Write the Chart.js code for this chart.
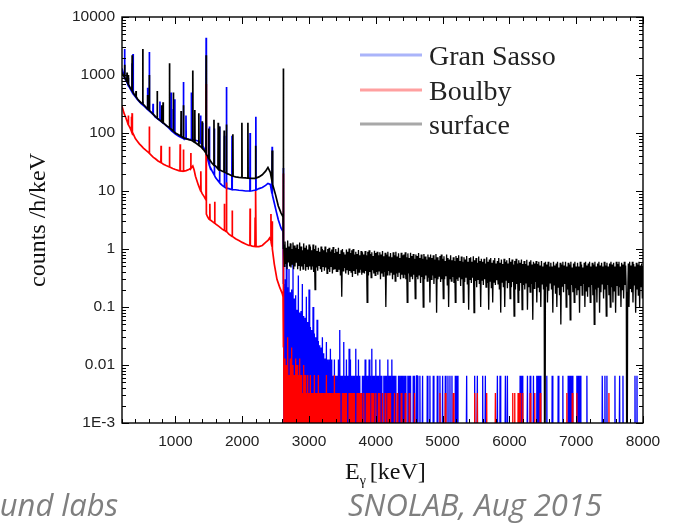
<!DOCTYPE html>
<html><head><meta charset="utf-8">
<script src="https://cdn.jsdelivr.net/npm/chart.js@4.4.1/dist/chart.umd.min.js"></script>
<style>
html,body{margin:0;padding:0;background:#fff;}
#wrap{position:relative;width:673px;height:523px;overflow:hidden;background:#fff;}
canvas{position:absolute;left:0;top:0;}
.foot{position:absolute;font-family:"Open Sans",sans-serif;font-style:italic;font-size:31px;color:#7f7f7f;white-space:nowrap;line-height:31px;}
</style></head><body>
<div id="wrap"><canvas id="c" width="673" height="523"></canvas>
<div class="foot" style="right:555px;top:489px;">und labs</div>
<div class="foot" style="left:348px;top:489px;">SNOLAB, Aug 2015</div>
</div>
<script>
const Z = 1e-6; // empty bin (zero counts) - falls below the axis
const seriesNames = ['Gran Sasso', 'Boulby', 'surface'];
const xTickValues = [1000, 2000, 3000, 4000, 5000, 6000, 7000, 8000];
const xTickLabels = ['1000', '2000', '3000', '4000', '5000', '6000', '7000', '8000'];
const yTickValues = [0.001, 0.01, 0.1, 1, 10, 100, 1000, 10000];
const yTickLabels = ['1E-3', '0.01', '0.1', '1', '10', '100', '1000', '10000'];

// Low-energy part: [E keV, counts/h/keV]
const granSassoLow = [[200,1300],[215,1100],[225,1000],[236,950],[239,2800],[242,930],[260,820],[280,720],[292,660],[295,900],[298,650],[320,590],[349,510],[352,1600],[355,505],[362,490],[365,2300],[368,485],[380,450],[400,420],[430,380],[460,345],[490,318],[508,305],[511,350],[514,303],[540,285],[570,262],[580,255],[583,600],[586,253],[606,240],[609,2500],[612,238],[640,222],[662,210],[665,320],[668,208],[700,188],[765,165],[768,350],[771,164],[800,152],[850,138],[900,122],[931,112],[934,500],[937,111],[964,104],[967,260],[970,103],[987,99],[990,380],[993,98],[1000,96],[1050,88],[1100,82],[1117,81],[1120,760],[1123,80],[1155,79],[1158,200],[1161,79],[1200,78],[1235,77],[1238,500],[1241,77],[1280,76],[1300,75],[1350,72],[1374,68],[1377,200],[1380,67],[1405,61],[1408,150],[1411,60],[1430,54],[1457,46],[1460,4400],[1463,42],[1480,36],[1500,30],[1506,28],[1509,130],[1512,27],[1550,22],[1580,19],[1583,120],[1586,18.6],[1600,17],[1658,14],[1661,130],[1664,13.8],[1700,12.5],[1730,11.8],[1733,90],[1736,11.7],[1761,11.3],[1764,620],[1767,11.2],[1800,11],[1844,10.6],[1847,90],[1850,10.6],[1900,10.5],[1950,10.3],[2000,10.2],[2050,10],[2115,10],[2118,100],[2121,10],[2150,10.1],[2201,10.4],[2204,190],[2207,10.4],[2250,11],[2300,11.5],[2350,12.5],[2385,13.5],[2420,13],[2445,9],[2448,58],[2451,8.6],[2480,6.2],[2510,4.4],[2540,3.2],[2580,2.3],[2611,2.0],[2614,25],[2617,0.4]];

const boulbyLow = [[200,290],[230,220],[260,180],[280,155],[292,140],[295,200],[298,138],[320,122],[335,112],[338,190],[341,110],[349,106],[352,220],[355,104],[380,90],[400,80],[430,72],[460,65],[490,60],[520,55],[560,50],[590,47],[606,45],[609,130],[612,44.5],[640,41],[670,38],[700,36],[740,33],[782,31],[785,60],[788,30.8],[820,29],[860,27.5],[908,26],[911,58],[914,26],[960,24.5],[1000,23.5],[1050,22.5],[1068,22.2],[1071,64],[1074,22.2],[1100,22],[1117,22],[1120,52],[1123,22],[1160,22.5],[1200,23.5],[1227,24.5],[1230,45],[1233,24.5],[1260,27],[1280,23],[1300,18],[1340,13],[1377,10],[1380,22],[1383,10],[1400,9],[1430,8],[1457,7],[1460,700],[1463,4],[1480,3.6],[1500,3.3],[1512,3.2],[1515,6],[1518,3.2],[1550,3.0],[1585,2.8],[1588,6.5],[1591,2.8],[1600,2.7],[1650,2.45],[1700,2.2],[1730,2.1],[1733,6],[1736,2.1],[1761,2.0],[1764,14],[1767,2.0],[1800,1.8],[1847,1.65],[1850,4.6],[1853,1.65],[1900,1.5],[1950,1.4],[2000,1.3],[2050,1.22],[2100,1.15],[2115,1.15],[2118,5],[2121,1.15],[2150,1.12],[2190,1.1],[2193,3.5],[2196,1.1],[2201,1.1],[2204,10],[2207,1.1],[2250,1.1],[2300,1.15],[2350,1.3],[2385,1.4],[2410,1.55],[2427,1.4],[2430,4],[2433,1.3],[2445,1.1],[2448,3],[2451,1.0],[2480,0.55],[2520,0.3],[2560,0.22],[2600,0.17],[2611,0.15],[2614,20],[2617,0.05]];

const surfaceLow = [[200,1100],[215,1000],[230,950],[238,930],[241,1500],[244,900],[260,820],[272,780],[275,1100],[278,770],[292,700],[295,1000],[298,690],[320,610],[340,560],[349,540],[352,2200],[355,530],[380,470],[407,425],[410,530],[413,422],[430,390],[460,355],[463,350],[466,352],[490,330],[508,320],[511,2800],[514,318],[540,295],[570,270],[580,262],[583,450],[586,260],[606,248],[609,1000],[612,246],[640,228],[670,210],[700,192],[724,182],[727,530],[730,180],[760,168],[792,158],[795,300],[798,156],[812,152],[815,340],[818,151],[860,136],[880,130],[908,124],[911,1600],[914,123],[940,115],[966,108],[969,500],[972,107],[1000,100],[1040,94],[1082,88],[1085,240],[1088,87],[1117,84],[1120,300],[1123,83],[1160,80],[1200,77],[1235,75],[1257,73],[1260,1200],[1263,72],[1287,69],[1290,250],[1293,69],[1300,68],[1347,62],[1350,220],[1353,61],[1380,58],[1397,55],[1400,160],[1403,55],[1430,50],[1457,45],[1460,2200],[1463,43],[1480,40],[1497,36],[1500,120],[1503,36],[1540,31],[1574,28],[1577,170],[1580,27.5],[1600,27],[1637,24],[1640,150],[1643,23.5],[1657,23],[1660,130],[1663,23],[1680,22.5],[1720,21.5],[1727,21.3],[1730,110],[1733,21.2],[1761,20.5],[1764,140],[1767,20.3],[1800,19.5],[1857,18],[1860,95],[1863,18],[1900,17.5],[1950,17.2],[1992,17],[1995,150],[1998,17],[2050,16.8],[2082,16.6],[2085,150],[2088,16.6],[2150,16.5],[2197,16.6],[2200,60],[2203,16.6],[2250,17.5],[2300,19],[2350,22],[2385,25.5],[2420,21],[2445,15],[2448,50],[2451,14.6],[2460,13],[2500,8.5],[2540,5.5],[2580,4.2],[2611,3.6],[2614,1300],[2617,1.0]];

// High-energy part: 10 keV bins from 2620 keV to 8000 keV (20 bins per row)
const hiBinStart = 2620;
const hiBinWidth = 10;
const granSassoHi = [
0.25,Z,0.3,Z,0.8,Z,0.22,Z,0.45,Z,0.18,Z,0.2,Z,0.6,Z,0.14,Z,0.16,Z,
0.09,Z,0.35,Z,0.08,Z,0.085,Z,0.25,Z,0.07,Z,0.065,Z,0.15,Z,0.055,Z,0.2,Z,
0.045,Z,0.04,Z,0.1,Z,0.035,Z,0.03,Z,0.06,Z,0.026,Z,0.022,Z,0.02,Z,0.03,Z,
0.016,Z,0.013,Z,0.025,Z,0.0125,Z,0.0125,Z,0.019,Z,0.0125,Z,0.0065,Z,0.0125,Z,0.0065,Z,
0.0065,Z,0.0125,Z,0.04,Z,0.0065,Z,0.0065,Z,0.025,Z,0.0065,Z,0.0125,Z,0.0065,Z,0.019,Z,
0.0125,Z,0.0065,Z,0.0065,Z,0.0065,Z,0.019,Z,0.0065,Z,0.0125,Z,0.0065,Z,Z,Z,0.0065,Z,
0.0065,Z,0.0125,Z,0.0065,Z,0.0065,Z,0.0125,Z,0.0065,Z,0.019,Z,0.0065,Z,0.0065,Z,0.0125,Z,
0.0065,Z,0.0065,Z,0.0125,Z,0.0065,Z,Z,Z,0.0065,Z,0.0065,Z,0.0065,Z,0.0125,Z,0.0065,Z,
0.0065,Z,0.0125,Z,0.0065,Z,0.0065,Z,0.0065,Z,Z,Z,0.0065,Z,0.0065,Z,0.0065,Z,0.0065,Z,
0.0065,Z,0.0065,Z,Z,Z,0.0065,Z,0.0065,Z,0.0065,Z,Z,Z,0.0065,Z,0.0065,Z,Z,0.0065,
0.0065,Z,Z,Z,0.0065,Z,Z,Z,0.0065,Z,Z,Z,Z,Z,Z,0.0065,Z,Z,Z,0.0065,
Z,Z,Z,Z,0.0065,Z,Z,Z,Z,Z,0.0065,Z,Z,Z,0.0065,Z,Z,Z,0.0065,Z,
Z,Z,0.0065,Z,Z,Z,0.0065,Z,Z,0.0065,Z,Z,0.0065,Z,Z,Z,Z,0.0065,Z,Z,
0.0065,Z,Z,Z,Z,Z,Z,Z,Z,Z,Z,Z,Z,Z,0.0065,Z,Z,Z,Z,Z,
Z,Z,Z,Z,Z,Z,0.0065,Z,Z,Z,0.0065,Z,Z,Z,Z,Z,Z,Z,0.0065,Z,
Z,Z,0.0065,Z,Z,Z,Z,Z,Z,Z,Z,Z,Z,Z,Z,Z,Z,Z,Z,Z,
0.0065,Z,Z,Z,0.0065,Z,Z,Z,Z,Z,Z,Z,0.0065,Z,Z,0.0065,Z,Z,Z,Z,
Z,Z,Z,Z,Z,Z,Z,Z,Z,Z,Z,Z,Z,Z,0.0065,Z,Z,0.0065,Z,Z,
Z,Z,Z,Z,Z,0.0065,Z,Z,Z,0.0065,Z,Z,Z,Z,0.0065,Z,Z,Z,Z,0.0065,
Z,0.0065,Z,Z,0.0065,Z,Z,Z,Z,Z,Z,Z,Z,Z,0.0065,Z,Z,Z,Z,Z,
Z,Z,0.0065,Z,Z,Z,Z,Z,Z,Z,Z,0.0065,Z,Z,Z,Z,Z,Z,0.0065,Z,
Z,Z,Z,Z,Z,Z,0.0065,Z,Z,0.0065,Z,Z,0.0065,Z,Z,Z,Z,Z,Z,0.0065,
Z,0.0065,Z,Z,0.0065,Z,Z,Z,Z,Z,Z,Z,Z,Z,0.0065,Z,Z,Z,Z,Z,
Z,Z,Z,Z,Z,Z,Z,Z,Z,Z,Z,Z,Z,Z,Z,Z,Z,0.0065,0.0065,Z,
Z,0.0065,Z,Z,0.0065,Z,Z,Z,Z,Z,Z,Z,Z,Z,Z,Z,0.0065,Z,Z,Z,
Z,Z,Z,0.0065,Z,Z,Z,Z,0.0065,Z,Z,Z,Z,Z,Z,Z,Z,Z,Z,Z,
Z,Z,Z,Z,Z,Z,0.0065,Z,Z,0.0065,Z,Z,Z,Z,Z,Z,Z,Z,Z];

const boulbyHi = [
0.02,Z,0.013,Z,0.01,Z,0.03,Z,0.0067,Z,0.013,Z,0.02,Z,0.01,Z,0.0067,Z,0.013,Z,
0.01,Z,0.0067,Z,0.013,Z,0.0067,Z,0.0033,Z,0.01,Z,0.0067,Z,0.0033,Z,0.0067,Z,0.0033,Z,
0.0067,Z,0.0033,Z,0.0033,Z,0.0067,Z,0.0033,Z,0.0033,Z,0.0067,Z,0.0033,Z,0.0033,Z,0.0033,Z,
0.0033,Z,0.0033,Z,0.0067,Z,0.0033,Z,0.0033,Z,0.0033,Z,0.0033,Z,0.0033,Z,0.0067,Z,0.0033,Z,
0.0033,Z,0.0033,Z,0.0033,Z,Z,Z,0.0033,Z,0.0033,Z,0.0033,Z,0.0033,Z,Z,Z,0.0033,Z,
0.0033,Z,0.0033,Z,0.0033,Z,0.0033,Z,Z,Z,0.0033,Z,0.0033,Z,0.0033,Z,0.0033,Z,Z,Z,
0.0033,Z,Z,Z,0.0033,Z,0.0033,Z,0.0033,Z,Z,Z,0.0033,Z,0.0033,Z,Z,Z,0.0033,Z,
Z,Z,0.0033,Z,0.0033,Z,Z,Z,0.0033,Z,Z,Z,0.0033,Z,Z,Z,0.0033,Z,0.0033,Z,
0.0033,Z,Z,Z,Z,Z,0.0033,Z,Z,Z,0.0033,Z,Z,Z,Z,Z,0.0033,Z,Z,Z,
Z,Z,0.0033,Z,Z,Z,Z,Z,0.0033,Z,Z,Z,Z,Z,Z,Z,0.0033,Z,Z,Z,
Z,Z,Z,Z,Z,Z,Z,Z,Z,Z,Z,Z,Z,Z,Z,Z,Z,Z,Z,Z,
Z,Z,Z,Z,Z,Z,Z,Z,Z,Z,Z,Z,Z,Z,0.0033,Z,Z,Z,Z,Z,
Z,Z,0.0033,Z,Z,Z,Z,Z,Z,Z,Z,Z,Z,Z,0.0033,Z,Z,Z,Z,Z,
Z,Z,Z,Z,Z,Z,Z,Z,Z,Z,Z,Z,Z,Z,Z,Z,Z,Z,Z,Z,
Z,Z,Z,Z,Z,Z,0.0033,Z,Z,Z,0.0033,Z,Z,Z,Z,Z,Z,Z,Z,Z,
Z,Z,Z,Z,0.0033,Z,Z,Z,Z,Z,Z,Z,Z,Z,Z,Z,Z,0.0033,Z,Z,
Z,Z,Z,Z,Z,Z,Z,Z,Z,Z,Z,Z,Z,Z,Z,Z,Z,Z,Z,Z,
Z,Z,Z,0.0033,Z,Z,0.0033,Z,Z,Z,Z,0.0033,Z,Z,0.0033,Z,Z,Z,0.0033,Z,
Z,Z,Z,Z,Z,Z,Z,Z,Z,0.0033,Z,Z,Z,Z,Z,Z,0.0033,Z,Z,Z,
Z,Z,Z,Z,0.0033,Z,Z,Z,Z,Z,Z,Z,Z,Z,Z,Z,Z,Z,Z,Z,
Z,Z,Z,Z,Z,Z,Z,Z,Z,Z,Z,Z,Z,Z,Z,Z,Z,Z,Z,Z,
Z,Z,Z,Z,0.0033,Z,Z,Z,Z,Z,Z,Z,0.0033,Z,Z,Z,Z,Z,Z,0.0033,
Z,Z,Z,Z,Z,Z,Z,Z,Z,Z,Z,Z,Z,Z,Z,Z,Z,Z,Z,Z,
Z,Z,Z,Z,Z,Z,Z,Z,Z,Z,Z,Z,Z,Z,Z,Z,Z,Z,Z,Z,
Z,Z,Z,Z,Z,Z,Z,0.0033,Z,Z,Z,Z,Z,Z,Z,Z,Z,Z,Z,Z,
Z,Z,Z,Z,Z,Z,Z,Z,Z,Z,Z,Z,Z,Z,Z,Z,Z,Z,Z,Z,
Z,Z,Z,Z,Z,Z,Z,Z,Z,Z,Z,Z,Z,Z,Z,Z,Z,Z,Z];

const surfaceHi = [
1.2,0.5,1.35,0.55,1.05,0.45,1.4,0.6,1.1,0.5,1.25,0.48,1.0,0.55,1.3,0.45,1.15,0.5,1.05,0.58,
1.2,0.45,1.0,0.52,1.3,0.42,1.1,0.5,0.95,0.45,1.25,0.55,1.05,0.42,1.15,0.5,0.98,0.44,1.2,0.5,
1.1,0.45,0.95,0.5,1.2,0.4,1.0,0.2,1.15,0.48,0.92,0.42,1.05,0.52,0.9,0.45,1.1,0.4,1.0,0.5,
0.95,0.42,1.1,0.48,0.88,0.38,1.0,0.45,1.05,0.4,0.9,0.5,0.98,0.38,1.08,0.44,0.85,0.46,1.0,0.4,
0.9,0.4,1.05,0.45,0.82,0.35,0.95,0.15,1.0,0.42,0.88,0.47,0.8,0.38,0.98,0.44,0.9,0.36,1.02,0.42,
0.85,0.4,0.95,0.33,1.0,0.42,0.8,0.38,0.9,0.45,0.82,0.35,0.96,0.4,0.78,0.44,0.92,0.36,0.88,0.4,
0.8,0.38,0.92,0.42,0.78,0.12,0.9,0.35,0.95,0.4,0.82,0.32,0.88,0.43,0.76,0.38,0.93,0.35,0.85,0.4,
0.9,0.36,0.78,0.42,0.88,0.3,0.8,0.38,0.92,0.34,0.75,0.4,0.86,0.1,0.8,0.36,0.9,0.42,0.74,0.35,
0.85,0.4,0.72,0.3,0.88,0.36,0.78,0.28,0.9,0.38,0.74,0.33,0.84,0.4,0.7,0.3,0.86,0.36,0.78,0.32,
0.8,0.36,0.88,0.3,0.72,0.12,0.84,0.38,0.7,0.27,0.86,0.34,0.76,0.3,0.82,0.36,0.68,0.14,0.8,0.33,
0.76,0.3,0.85,0.36,0.7,0.26,0.8,0.33,0.68,0.1,0.82,0.3,0.74,0.35,0.66,0.28,0.8,0.32,0.72,0.12,
0.8,0.3,0.7,0.35,0.78,0.25,0.66,0.32,0.82,0.08,0.72,0.3,0.64,0.34,0.76,0.27,0.8,0.3,0.68,0.14,
0.75,0.3,0.62,0.34,0.8,0.24,0.7,0.1,0.66,0.3,0.78,0.28,0.64,0.33,0.72,0.26,0.62,0.12,0.76,0.3,
0.7,0.28,0.78,0.33,0.62,0.23,0.74,0.3,0.6,0.12,0.72,0.27,0.66,0.32,0.76,0.25,0.6,0.09,0.7,0.3,
0.72,0.26,0.6,0.32,0.75,0.08,0.64,0.28,0.7,0.22,0.58,0.3,0.74,0.25,0.62,0.1,0.68,0.29,0.6,0.24,
0.68,0.3,0.56,0.22,0.72,0.26,0.6,0.09,0.66,0.28,0.7,0.21,0.58,0.12,0.64,0.27,0.7,0.24,0.56,0.29,
0.62,0.25,0.7,0.2,0.58,0.08,0.66,0.27,0.55,0.22,0.68,0.1,0.6,0.29,0.64,0.21,0.56,0.26,0.7,0.14,
0.6,0.22,0.66,0.27,0.54,0.07,0.62,0.2,0.68,0.25,0.56,0.12,0.64,0.19,0.58,0.26,0.66,0.09,0.55,0.24,
0.62,0.2,0.55,0.26,0.65,0.09,0.52,0.22,0.6,0.18,0.64,0.25,0.54,0.06,0.6,0.21,0.56,0.27,0.62,0.12,
0.55,0.22,0.6,0.18,0.52,0.1,0.62,0.25,0.5,0.2,0.58,Z,0.6,0.23,0.54,0.12,0.6,0.19,0.5,0.26,
0.58,0.2,0.5,0.08,0.6,0.24,0.52,0.17,0.56,0.1,0.6,0.22,0.48,0.16,0.58,0.05,0.54,0.23,0.6,0.18,
0.52,0.25,0.6,0.1,0.5,0.2,0.58,0.16,0.54,0.06,0.6,0.24,0.48,0.18,0.56,0.12,0.6,0.21,0.5,0.16,
0.58,0.2,0.5,0.08,0.6,0.23,0.54,0.16,0.48,0.25,0.58,0.1,0.6,0.19,0.52,0.15,0.56,0.22,0.6,0.12,
0.5,0.24,0.58,0.16,0.54,0.05,0.6,0.2,0.5,0.12,0.56,0.22,0.6,0.08,0.52,0.18,0.58,0.25,0.5,0.14,
0.6,0.2,0.52,0.07,0.58,0.24,0.5,0.16,0.56,0.1,0.6,0.22,0.54,0.12,0.58,0.19,0.5,0.08,0.6,0.23,
0.55,0.16,0.6,0.22,0.5,0.1,0.58,0.2,0.54,0.14,0.6,0.24,0.52,0.18,Z,0.15,0.56,0.1,0.6,0.21,
0.52,0.18,0.6,0.12,0.55,0.24,0.5,0.08,0.58,0.2,0.54,0.16,0.6,0.1,0.52,0.22,0.56,0.14,0.5];

const seriesColors = ['#0000ff', '#ff0000', '#000000'];
const legendColors = ['#aab4fa', '#ffa0a0', '#a8a8a8'];

function toPoints(low, hi) {
  return low.map(p => ({x: p[0], y: p[1]}))
    .concat(hi.map((v, i) => ({x: hiBinStart + i * hiBinWidth, y: v})));
}

const frameTicks = {
  id: 'frameTicks',
  afterDatasetsDraw(chart) {
    const {ctx, chartArea: a, scales: {x, y}} = chart;
    ctx.save();
    ctx.strokeStyle = '#000';
    ctx.lineWidth = 1;
    ctx.beginPath();
    for (let e = 200; e <= 8000; e += 200) {
      const px = Math.round(x.getPixelForValue(e)) + 0.5;
      const L = (e % 1000 === 0) ? 7 : 4;
      ctx.moveTo(px, a.bottom); ctx.lineTo(px, a.bottom - L);
      ctx.moveTo(px, a.top); ctx.lineTo(px, a.top + L);
    }
    for (let d = -3; d <= 4; d++) {
      for (let k = 1; k <= 9; k++) {
        const v = k * Math.pow(10, d);
        if (v > 10001) break;
        const py = Math.round(y.getPixelForValue(v)) + 0.5;
        const L = (k === 1) ? 7 : 4;
        ctx.moveTo(a.left, py); ctx.lineTo(a.left + L, py);
        ctx.moveTo(a.right, py); ctx.lineTo(a.right - L, py);
      }
    }
    ctx.stroke();
    ctx.lineWidth = 1.4;
    ctx.strokeRect(a.left, a.top, a.right - a.left, a.bottom - a.top);
    ctx.restore();
  },
  afterDraw(chart) {
    const {ctx} = chart;
    ctx.save();
    const rows = [65, 100, 134];
    ctx.font = '28px "Liberation Serif"';
    ctx.textBaseline = 'alphabetic';
    ctx.textAlign = 'left';
    seriesNames.forEach((n, i) => {
      const ly = rows[i] - 10;
      ctx.strokeStyle = legendColors[i];
      ctx.lineWidth = 3;
      ctx.beginPath(); ctx.moveTo(360, ly); ctx.lineTo(422, ly); ctx.stroke();
      ctx.fillStyle = '#222';
      ctx.fillText(n, 429, rows[i]);
    });
    ctx.fillStyle = '#111';
    ctx.font = '24px "Liberation Serif"';
    let xx = 345, by = 479;
    ctx.fillText('E', xx, by);
    xx += ctx.measureText('E').width;
    ctx.font = '14px "Liberation Serif"';
    ctx.fillText('γ', xx, by + 6);
    xx += ctx.measureText('γ').width;
    ctx.font = '24px "Liberation Serif"';
    ctx.fillText(' [keV]', xx - 2, by);
    ctx.restore();
  }
};

// slightly thinner lines for the fine 10 keV bins, heavier for the low-energy continuum
const segWidth = {borderWidth: c => (c.p0.parsed.x >= hiBinStart ? 1.3 : 1.7)};

new Chart(document.getElementById('c'), {
  type: 'line',
  data: {
    datasets: [
      {label: seriesNames[2], data: toPoints(surfaceLow, surfaceHi), borderColor: seriesColors[2], order: 0, segment: segWidth},
      {label: seriesNames[1], data: toPoints(boulbyLow, boulbyHi), borderColor: seriesColors[1], order: 1, segment: segWidth},
      {label: seriesNames[0], data: toPoints(granSassoLow, granSassoHi), borderColor: seriesColors[0], order: 2, segment: segWidth}
    ]
  },
  options: {
    responsive: false,
    animation: false,
    events: [],
    elements: {line: {borderWidth: 1.5, tension: 0, fill: false}, point: {radius: 0}},
    layout: {padding: {left: 0, top: 17, right: 30, bottom: 0}},
    plugins: {legend: {display: false}, tooltip: {enabled: false}},
    scales: {
      x: {
        type: 'linear', min: 200, max: 8000,
        grid: {display: false, drawTicks: false}, border: {display: false},
        afterBuildTicks: s => { s.ticks = xTickValues.map(v => ({value: v})); },
        afterFit: s => { s.height = 100; },
        ticks: {autoSkip: false, maxRotation: 0, padding: 9, color: '#222',
          font: {family: 'Liberation Sans', size: 15.5},
          callback: (v, i) => xTickLabels[i]}
      },
      y: {
        type: 'logarithmic', min: 0.001, max: 10000,
        grid: {display: false, drawTicks: false}, border: {display: false},
        afterBuildTicks: s => { s.ticks = yTickValues.map(v => ({value: v})); },
        afterFit: s => { s.width = 122; },
        ticks: {autoSkip: false, padding: 7, color: '#222',
          font: {family: 'Liberation Sans', size: 15.5},
          callback: (v, i) => yTickLabels[i]},
        title: {display: true, text: 'counts /h/keV', color: '#111',
          font: {family: 'Liberation Serif', size: 24}, padding: {top: 24, bottom: 0}}
      }
    }
  },
  plugins: [frameTicks]
});
</script>
</body></html>
